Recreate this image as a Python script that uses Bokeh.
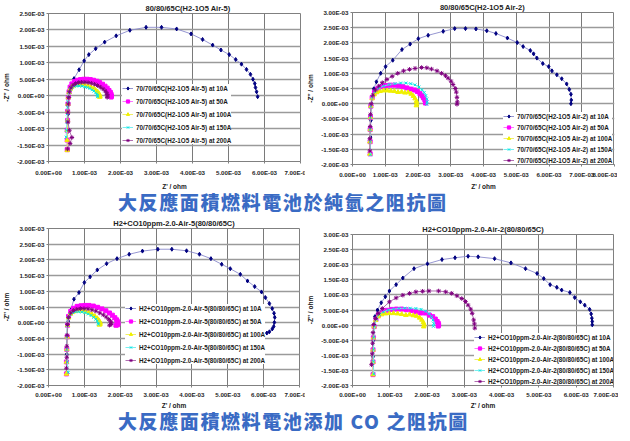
from bokeh.plotting import figure
from bokeh.models import Range1d, FixedTicker, Legend, LegendItem, Div, CustomJSTickFormatter, Spacer
from bokeh.layouts import column, row
from bokeh.embed import file_html
from bokeh.resources import INLINE

# ---------------- data (Z values in units of 1E-03 ohm) ----------------
CURRENTS = ["10A", "50A", "100A", "150A", "200A"]

X_TICKS = [0, 1, 2, 3, 4, 5, 6, 7, 8]
X_LABELS = ["0.00E+00", "1.00E-03", "2.00E-03", "3.00E-03", "4.00E-03",
            "5.00E-03", "6.00E-03", "7.00E-03", "8.00E-03"]
Y_TICKS = [-2.0, -1.5, -1.0, -0.5, 0.0, 0.5, 1.0, 1.5, 2.0, 2.5, 3.0]
Y_LABELS = ["-2.00E-03", "-1.50E-03", "-1.00E-03", "-5.00E-04", "0.00E+00",
            "5.00E-04", "1.00E-03", "1.50E-03", "2.00E-03", "2.50E-03", "3.00E-03"]

# ---- chart 1: 80/80/65C(H2-1O5 Air-5)
TL_10A_X = [0.52, 0.53, 0.55, 0.58, 0.63, 0.71, 0.85, 0.99, 1.12, 1.31, 1.56, 1.88, 2.26, 2.71, 3.14, 3.56, 3.96, 4.28, 4.56, 4.79, 5.02, 5.20, 5.36, 5.50, 5.61, 5.68, 5.73, 5.75, 5.78, 5.81]
TL_10A_Y = [-1.62, -1.10, -0.55, -0.05, 0.25, 0.52, 0.79, 1.06, 1.25, 1.43, 1.63, 1.82, 1.99, 2.08, 2.08, 2.03, 1.88, 1.71, 1.54, 1.39, 1.25, 1.10, 0.96, 0.80, 0.65, 0.50, 0.37, 0.25, 0.12, -0.03]
TL_50A_X = [0.52, 0.52, 0.52, 0.53, 0.53, 0.54, 0.55, 0.57, 0.60, 0.65, 0.72, 0.80, 0.89, 0.98, 1.07, 1.16, 1.25, 1.34, 1.42, 1.50, 1.57, 1.63, 1.68, 1.72, 1.74, 1.75, 1.74]
TL_50A_Y = [-1.64, -1.35, -1.05, -0.75, -0.48, -0.25, -0.05, 0.12, 0.26, 0.36, 0.43, 0.47, 0.49, 0.50, 0.50, 0.49, 0.47, 0.44, 0.40, 0.35, 0.29, 0.23, 0.16, 0.10, 0.04, -0.01, -0.04]
TL_100A_X = [0.52, 0.52, 0.52, 0.53, 0.53, 0.54, 0.55, 0.57, 0.60, 0.65, 0.71, 0.78, 0.86, 0.94, 1.02, 1.10, 1.18, 1.25, 1.31, 1.36, 1.40, 1.42, 1.43, 1.42]
TL_100A_Y = [-1.66, -1.35, -1.05, -0.75, -0.48, -0.25, -0.05, 0.10, 0.20, 0.27, 0.31, 0.33, 0.33, 0.32, 0.31, 0.29, 0.26, 0.22, 0.17, 0.12, 0.07, 0.02, -0.02, -0.04]
TL_150A_X = [0.49, 0.50, 0.51, 0.52, 0.53, 0.54, 0.55, 0.57, 0.60, 0.65, 0.71, 0.78, 0.85, 0.93, 1.01, 1.08, 1.15, 1.21, 1.26, 1.31, 1.34, 1.36, 1.36]
TL_150A_Y = [-1.26, -1.05, -0.80, -0.55, -0.35, -0.18, -0.03, 0.10, 0.19, 0.25, 0.29, 0.30, 0.30, 0.29, 0.27, 0.25, 0.22, 0.18, 0.14, 0.09, 0.05, 0.01, -0.03]
TL_200A_X = [0.53, 0.60, 0.65, 0.58, 0.54, 0.54, 0.55, 0.56, 0.58, 0.62, 0.68, 0.75, 0.83, 0.92, 1.01, 1.10, 1.19, 1.28, 1.36, 1.44, 1.51, 1.57, 1.61, 1.63, 1.64, 1.63]
TL_200A_Y = [-1.62, -1.45, -1.27, -1.05, -0.80, -0.50, -0.25, -0.05, 0.12, 0.24, 0.32, 0.37, 0.40, 0.41, 0.41, 0.40, 0.38, 0.35, 0.31, 0.26, 0.21, 0.15, 0.09, 0.04, -0.01, -0.05]

# ---- chart 2: 80/80/65C(H2-1O5 Air-2)
TR_10A_X = [0.55, 0.55, 0.56, 0.58, 0.62, 0.65, 0.73, 0.86, 1.01, 1.23, 1.51, 1.76, 2.01, 2.31, 2.77, 3.12, 3.45, 3.77, 4.10, 4.38, 4.73, 5.03, 5.21, 5.43, 5.53, 5.63, 5.81, 5.99, 6.09, 6.24, 6.39, 6.54, 6.62, 6.67, 6.68, 6.67]
TR_10A_Y = [-1.65, -1.10, -0.55, -0.05, 0.25, 0.49, 0.72, 1.00, 1.22, 1.43, 1.78, 1.96, 2.14, 2.25, 2.38, 2.47, 2.47, 2.46, 2.40, 2.31, 2.16, 2.01, 1.88, 1.75, 1.64, 1.50, 1.32, 1.22, 1.08, 0.95, 0.82, 0.65, 0.47, 0.31, 0.12, 0.00]
TR_50A_X = [0.54, 0.54, 0.54, 0.55, 0.56, 0.60, 0.67, 0.77, 0.89, 1.02, 1.15, 1.28, 1.41, 1.54, 1.66, 1.78, 1.89, 1.98, 2.06, 2.12, 2.17, 2.21, 2.23, 2.23]
TR_50A_Y = [-1.65, -1.25, -0.85, -0.45, -0.08, 0.20, 0.38, 0.49, 0.56, 0.60, 0.61, 0.61, 0.59, 0.56, 0.52, 0.48, 0.45, 0.40, 0.33, 0.26, 0.19, 0.12, 0.06, 0.02]
TR_100A_X = [0.53, 0.53, 0.54, 0.55, 0.56, 0.60, 0.66, 0.74, 0.84, 0.95, 1.06, 1.17, 1.28, 1.39, 1.50, 1.60, 1.70, 1.79, 1.86, 1.91, 1.95, 1.96, 1.95]
TR_100A_Y = [-1.65, -1.25, -0.85, -0.45, -0.08, 0.17, 0.30, 0.37, 0.41, 0.43, 0.43, 0.42, 0.41, 0.38, 0.39, 0.36, 0.37, 0.32, 0.25, 0.17, 0.08, 0.00, -0.06]
TR_150A_X = [0.55, 0.54, 0.54, 0.55, 0.56, 0.60, 0.68, 0.80, 0.95, 1.12, 1.30, 1.47, 1.63, 1.78, 1.91, 2.03, 2.12, 2.19, 2.24, 2.27, 2.28, 2.27]
TR_150A_Y = [-1.68, -1.25, -0.85, -0.45, -0.08, 0.22, 0.40, 0.51, 0.58, 0.63, 0.66, 0.68, 0.68, 0.66, 0.62, 0.55, 0.46, 0.37, 0.27, 0.16, 0.06, -0.02]
TR_200A_X = [0.53, 0.53, 0.54, 0.55, 0.57, 0.62, 0.70, 0.80, 0.91, 1.05, 1.21, 1.38, 1.56, 1.74, 1.91, 2.11, 2.27, 2.41, 2.58, 2.72, 2.84, 2.92, 3.01, 3.07, 3.14, 3.17, 3.19, 3.20, 3.19]
TR_200A_Y = [-1.55, -1.15, -0.75, -0.35, 0.00, 0.28, 0.45, 0.58, 0.69, 0.80, 0.90, 1.00, 1.08, 1.13, 1.16, 1.19, 1.18, 1.14, 1.08, 1.00, 0.92, 0.84, 0.74, 0.63, 0.50, 0.38, 0.21, 0.06, -0.02]

# ---- chart 3: H2+CO10ppm-2.0-Air-5(80/80/65C)
BL_10A_X = [0.50, 0.51, 0.52, 0.55, 0.62, 0.71, 0.85, 1.00, 1.16, 1.36, 1.62, 1.91, 2.25, 2.62, 3.05, 3.44, 3.85, 4.21, 4.53, 4.83, 5.07, 5.35, 5.55, 5.75, 5.94, 6.05, 6.16, 6.24, 6.29, 6.31, 6.30, 6.28, 6.24, 6.16, 6.09]
BL_10A_Y = [-1.60, -1.00, -0.40, 0.05, 0.40, 0.75, 0.96, 1.28, 1.46, 1.68, 1.88, 2.04, 2.18, 2.28, 2.34, 2.34, 2.29, 2.18, 2.04, 1.86, 1.72, 1.54, 1.33, 1.15, 0.98, 0.80, 0.61, 0.45, 0.30, 0.17, 0.01, -0.12, -0.20, -0.29, -0.33]
BL_50A_X = [0.50, 0.50, 0.51, 0.52, 0.53, 0.56, 0.62, 0.70, 0.80, 0.91, 1.02, 1.13, 1.25, 1.37, 1.49, 1.60, 1.70, 1.78, 1.85, 1.90, 1.93, 1.94, 1.92, 1.88]
BL_50A_Y = [-1.63, -1.25, -0.85, -0.45, -0.08, 0.20, 0.36, 0.46, 0.52, 0.54, 0.55, 0.55, 0.53, 0.49, 0.44, 0.38, 0.31, 0.24, 0.16, 0.09, 0.03, -0.03, -0.07, -0.08]
BL_100A_X = [0.50, 0.50, 0.51, 0.52, 0.53, 0.56, 0.61, 0.68, 0.76, 0.85, 0.94, 1.03, 1.12, 1.21, 1.29, 1.36, 1.41, 1.44, 1.44, 1.42]
BL_100A_Y = [-1.63, -1.25, -0.85, -0.45, -0.08, 0.16, 0.28, 0.34, 0.37, 0.38, 0.37, 0.35, 0.32, 0.27, 0.21, 0.14, 0.07, 0.01, -0.04, -0.07]
BL_150A_X = [0.55, 0.52, 0.51, 0.51, 0.52, 0.55, 0.60, 0.67, 0.75, 0.84, 0.93, 1.02, 1.11, 1.19, 1.26, 1.32, 1.36, 1.39, 1.39]
BL_150A_Y = [-1.58, -1.25, -0.85, -0.45, -0.08, 0.15, 0.26, 0.32, 0.35, 0.35, 0.34, 0.32, 0.28, 0.23, 0.17, 0.11, 0.05, -0.01, -0.05]
BL_200A_X = [0.50, 0.51, 0.51, 0.52, 0.53, 0.56, 0.62, 0.70, 0.79, 0.89, 0.99, 1.10, 1.21, 1.32, 1.43, 1.53, 1.61, 1.68, 1.73, 1.75, 1.74, 1.70]
BL_200A_Y = [-1.45, -1.10, -0.75, -0.40, -0.06, 0.17, 0.31, 0.39, 0.43, 0.45, 0.45, 0.44, 0.41, 0.37, 0.31, 0.25, 0.18, 0.11, 0.05, -0.01, -0.06, -0.08]

# ---- chart 4: H2+CO10ppm-2.0-Air-2(80/80/65C)
BR_10A_X = [0.55, 0.55, 0.56, 0.58, 0.60, 0.67, 0.77, 0.88, 0.99, 1.17, 1.35, 1.65, 2.01, 2.40, 2.75, 3.10, 3.37, 3.81, 4.25, 4.64, 4.95, 5.13, 5.30, 5.48, 5.61, 5.83, 5.96, 6.11, 6.23, 6.36, 6.40, 6.42, 6.43, 6.43]
BR_10A_Y = [-1.60, -1.05, -0.50, 0.00, 0.28, 0.50, 0.74, 0.94, 1.13, 1.34, 1.56, 1.87, 2.03, 2.17, 2.23, 2.28, 2.26, 2.20, 2.06, 1.87, 1.71, 1.54, 1.34, 1.25, 1.16, 1.08, 0.91, 0.77, 0.66, 0.52, 0.37, 0.23, 0.12, 0.01]
BR_50A_X = [0.55, 0.55, 0.55, 0.56, 0.58, 0.63, 0.70, 0.80, 0.92, 1.05, 1.18, 1.31, 1.44, 1.57, 1.70, 1.83, 1.95, 2.06, 2.15, 2.22, 2.27, 2.30, 2.31, 2.30]
BR_50A_Y = [-1.64, -1.22, -0.82, -0.42, -0.05, 0.19, 0.34, 0.43, 0.49, 0.52, 0.53, 0.53, 0.51, 0.48, 0.44, 0.40, 0.40, 0.33, 0.28, 0.20, 0.12, 0.06, 0.01, -0.03]
BR_100A_X = [0.55, 0.55, 0.55, 0.56, 0.58, 0.62, 0.69, 0.78, 0.88, 0.99, 1.10, 1.21, 1.32, 1.43, 1.53, 1.63, 1.72, 1.80, 1.86, 1.90, 1.92, 1.91]
BR_100A_Y = [-1.64, -1.22, -0.82, -0.42, -0.05, 0.16, 0.28, 0.35, 0.38, 0.39, 0.39, 0.38, 0.36, 0.33, 0.35, 0.32, 0.30, 0.24, 0.17, 0.09, 0.01, -0.05]
BR_150A_X = [0.57, 0.56, 0.56, 0.57, 0.59, 0.64, 0.72, 0.83, 0.96, 1.10, 1.25, 1.40, 1.55, 1.70, 1.84, 1.96, 2.05, 2.12, 2.16, 2.18, 2.17]
BR_150A_Y = [-1.62, -1.20, -0.80, -0.40, -0.04, 0.20, 0.35, 0.44, 0.50, 0.53, 0.55, 0.56, 0.56, 0.55, 0.52, 0.46, 0.38, 0.28, 0.17, 0.05, -0.04]
BR_200A_X = [0.51, 0.53, 0.54, 0.55, 0.57, 0.62, 0.69, 0.80, 0.99, 1.17, 1.35, 1.53, 1.70, 1.88, 2.05, 2.31, 2.50, 2.66, 2.80, 2.93, 3.03, 3.10, 3.17, 3.21, 3.25, 3.27, 3.28]
BR_200A_Y = [-1.31, -0.95, -0.60, -0.25, 0.02, 0.22, 0.39, 0.55, 0.77, 0.90, 0.99, 1.05, 1.10, 1.12, 1.13, 1.13, 1.10, 1.05, 0.97, 0.88, 0.78, 0.66, 0.53, 0.39, 0.17, 0.04, -0.10]

TITLES = ["80/80/65C(H2-1O5  Air-5)", "80/80/65C(H2-1O5  Air-2)",
          "H2+CO10ppm-2.0-Air-5(80/80/65C)", "H2+CO10ppm-2.0-Air-2(80/80/65C)"]
SERIES_NAMES = ["70/70/65C(H2-1O5 Air-5)", "70/70/65C(H2-1O5 Air-2)",
                "H2+CO10ppm-2.0-Air-5(80/80/65C)", "H2+CO10ppm-2.0-Air-2(80/80/65C)"]
CAPTION_1 = "大反應面積燃料電池於純氫之阻抗圖"
CAPTION_2 = "大反應面積燃料電池添加 CO 之阻抗圖"

# ---------------- styles ----------------
MARKERS = ["diamond", "square", "triangle", "x", "asterisk"]
MARK_COLORS = ["#000080", "#ff00ff", "#f0f000", "#00e5e5", "#800080"]
LINE_COLORS = ["#8a8acc", "#ff66ff", "#eeee55", "#66eeee", "#a860a8"]
MARK_SIZES = [4, 4, 4.5, 4, 4.5]
FONT = "Liberation Sans"

FMT_CODE = "const i = tvals.indexOf(tick); return i >= 0 ? tlabels[i] : '';"


def make_chart(title, name, data, xmax, ymin, ymax, fw, fh, borders,
               title_align, title_offset, leg_loc, leg_spacing, x_std, x_lab_std):
    bl, br, bt, bb = borders
    p = figure(frame_width=fw, frame_height=fh, output_backend="svg",
               toolbar_location=None, title=title,
               x_range=Range1d(0, xmax), y_range=Range1d(ymin, ymax),
               min_border_left=bl, min_border_right=br,
               min_border_top=bt, min_border_bottom=bb,
               background_fill_color="white", border_fill_color="white")
    p.title.text_font = FONT
    p.title.text_font_size = "7.5px"
    p.title.text_font_style = "bold"
    p.title.text_color = "#222222"
    p.title.align = title_align
    p.title.offset = title_offset
    p.title.standoff = 1
    p.outline_line_color = "#808080"

    xt = [t for t in X_TICKS if t <= xmax]
    yt = [t for t in Y_TICKS if ymin <= t <= ymax]
    p.xaxis.ticker = FixedTicker(ticks=xt)
    p.yaxis.ticker = FixedTicker(ticks=yt)
    p.xaxis.formatter = CustomJSTickFormatter(args=dict(tvals=X_TICKS, tlabels=X_LABELS), code=FMT_CODE)
    p.yaxis.formatter = CustomJSTickFormatter(args=dict(tvals=Y_TICKS, tlabels=Y_LABELS), code=FMT_CODE)
    p.xaxis.axis_label = "Z' / ohm"
    p.yaxis.axis_label = "-Z'' / ohm"
    for ax in (p.xaxis[0], p.yaxis[0]):
        ax.axis_line_color = "#808080"
        ax.major_tick_line_color = "#808080"
        ax.major_tick_out = 2
        ax.major_tick_in = 0
        ax.minor_tick_line_color = None
        ax.major_label_text_font = FONT
        ax.major_label_text_font_size = "6.2px"
        ax.major_label_text_font_style = "bold"
        ax.major_label_text_color = "#262626"
        ax.axis_label_text_font = FONT
        ax.axis_label_text_font_size = "6.5px"
        ax.axis_label_text_font_style = "bold"
        ax.axis_label_text_color = "#1a1a1a"
    p.xaxis.major_label_standoff = x_std
    p.xaxis.axis_label_standoff = x_lab_std
    p.yaxis.major_label_standoff = 2
    p.yaxis.axis_label_standoff = 4
    p.xgrid.grid_line_color = "#7a7a7a"
    p.ygrid.grid_line_color = "#9a9a9a"
    p.xgrid.grid_line_width = 1
    p.ygrid.grid_line_width = 1.3

    items = []
    for i, (xs, ys) in enumerate(data):
        lr = p.line(xs, ys, line_color=LINE_COLORS[i], line_width=0.9)
        sr = p.scatter(xs, ys, marker=MARKERS[i], size=MARK_SIZES[i],
                       line_color=MARK_COLORS[i], fill_color=MARK_COLORS[i],
                       line_width=1)
        items.append(LegendItem(label=f"{name} at {CURRENTS[i]}", renderers=[lr, sr]))
    leg = Legend(items=items, location=leg_loc, orientation="vertical",
                 label_text_font=FONT, label_text_font_size="6.3px",
                 label_text_font_style="bold", label_text_color="#1a1a1a",
                 glyph_width=11, glyph_height=8, label_height=8,
                 label_standoff=3, spacing=leg_spacing, padding=2, margin=0,
                 border_line_color=None, background_fill_color="white",
                 background_fill_alpha=1.0)
    p.add_layout(leg)
    return p


tl = make_chart(TITLES[0], SERIES_NAMES[0],
                [(TL_10A_X, TL_10A_Y), (TL_50A_X, TL_50A_Y), (TL_100A_X, TL_100A_Y),
                 (TL_150A_X, TL_150A_Y), (TL_200A_X, TL_200A_Y)],
                7, -2.0, 2.5, 257, 148, (43, 4, 13, 28), "left", 97, (74, 17), 5, 5, 4)
tr = make_chart(TITLES[1], SERIES_NAMES[1],
                [(TR_10A_X, TR_10A_Y), (TR_50A_X, TR_50A_Y), (TR_100A_X, TR_100A_Y),
                 (TR_150A_X, TR_150A_Y), (TR_200A_X, TR_200A_Y)],
                8, -2.0, 3.0, 265, 157, (45, 0, 9, 24), "center", 0, (151, 0), 3, 4, 2)
bl = make_chart(TITLES[2], SERIES_NAMES[2],
                [(BL_10A_X, BL_10A_Y), (BL_50A_X, BL_50A_Y), (BL_100A_X, BL_100A_Y),
                 (BL_150A_X, BL_150A_Y), (BL_200A_X, BL_200A_Y)],
                7, -2.0, 3.0, 256, 157, (43, 5, 16, 23), "center", 0, (77, 21), 5, 3, 1)
br = make_chart(TITLES[3], SERIES_NAMES[3],
                [(BR_10A_X, BR_10A_Y), (BR_50A_X, BR_50A_Y), (BR_100A_X, BR_100A_Y),
                 (BR_150A_X, BR_150A_Y), (BR_200A_X, BR_200A_Y)],
                7, -2.0, 3.0, 265, 152, (44, 1, 22, 22), "center", 0, (122, 0), 3, 3, 1)

CAP_STYLE = ("padding-left:118px; font-family:'Noto Sans CJK TC'; font-weight:900; "
             "font-size:19px; letter-spacing:1.6px; color:#3a6bc4; line-height:20px; "
             "white-space:nowrap;")
cap1 = Div(text=f"<div style=\"{CAP_STYLE}\">{CAPTION_1}</div>", width=614, height=20,
           margin=(0, 0, 0, 0))
cap2 = Div(text=f"<div style=\"{CAP_STYLE}\">{CAPTION_2}</div>", width=614, height=20,
           margin=(0, 0, 0, 0))


def holder(fig, w, h):
    # wrap each figure on its own so the row does not line up the plot frames
    return column(Spacer(width=w, height=0), fig, width=w, height=h, spacing=0)


top_row = row(holder(tl, 304, 192), holder(tr, 310, 192), spacing=0)
bottom_row = row(holder(bl, 304, 199), holder(br, 310, 199), spacing=0)
layout = column(top_row, cap1, bottom_row, cap2, spacing=0)

open("out.html", "w").write(file_html(layout, INLINE))
